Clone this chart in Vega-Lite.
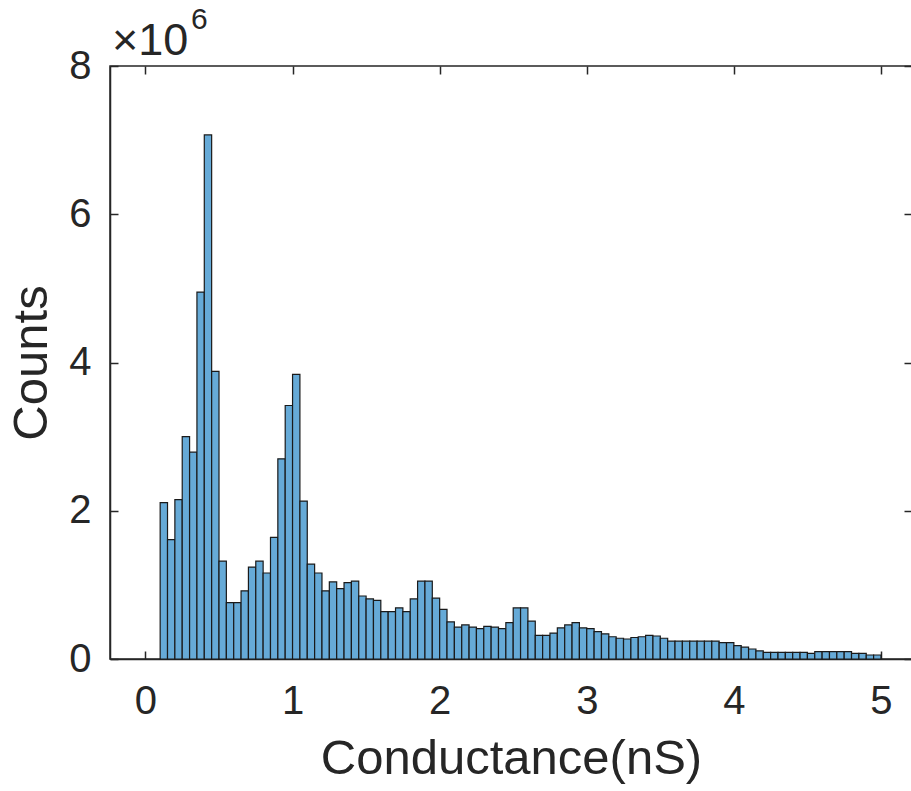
{
  "$schema": "https://vega.github.io/schema/vega-lite/v6.json",
  "width": 802,
  "height": 593,
  "autosize": {"type": "none"},
  "padding": {"left": 110, "top": 66, "right": 0, "bottom": 132},
  "background": "white",
  "config": {
    "view": {"stroke": "#262626", "strokeWidth": 1.5},
    "font": "Liberation Sans",
    "axis": {
      "grid": false,
      "domainColor": "#262626",
      "domainWidth": 1.5,
      "tickColor": "#262626",
      "tickWidth": 1.5,
      "tickSize": -8,
      "labelColor": "#262626",
      "labelFont": "Liberation Sans",
      "labelFontSize": 40,
      "labelOverlap": false,
      "labelFlush": false,
      "titleFont": "Liberation Sans",
      "titleFontSize": 49,
      "titleFontWeight": "normal",
      "titleColor": "#262626"
    }
  },
  "datasets": {
    "hist": [
      {"bin_start": 0.10, "bin_end": 0.15, "count": 2110000},
      {"bin_start": 0.15, "bin_end": 0.20, "count": 1610000},
      {"bin_start": 0.20, "bin_end": 0.25, "count": 2150000},
      {"bin_start": 0.25, "bin_end": 0.30, "count": 3000000},
      {"bin_start": 0.30, "bin_end": 0.35, "count": 2790000},
      {"bin_start": 0.35, "bin_end": 0.40, "count": 4950000},
      {"bin_start": 0.40, "bin_end": 0.45, "count": 7070000},
      {"bin_start": 0.45, "bin_end": 0.50, "count": 3880000},
      {"bin_start": 0.50, "bin_end": 0.55, "count": 1320000},
      {"bin_start": 0.55, "bin_end": 0.60, "count": 760000},
      {"bin_start": 0.60, "bin_end": 0.65, "count": 760000},
      {"bin_start": 0.65, "bin_end": 0.70, "count": 920000},
      {"bin_start": 0.70, "bin_end": 0.75, "count": 1240000},
      {"bin_start": 0.75, "bin_end": 0.80, "count": 1320000},
      {"bin_start": 0.80, "bin_end": 0.85, "count": 1160000},
      {"bin_start": 0.85, "bin_end": 0.90, "count": 1640000},
      {"bin_start": 0.90, "bin_end": 0.95, "count": 2700000},
      {"bin_start": 0.95, "bin_end": 1.00, "count": 3420000},
      {"bin_start": 1.00, "bin_end": 1.05, "count": 3840000},
      {"bin_start": 1.05, "bin_end": 1.10, "count": 2130000},
      {"bin_start": 1.10, "bin_end": 1.15, "count": 1280000},
      {"bin_start": 1.15, "bin_end": 1.20, "count": 1160000},
      {"bin_start": 1.20, "bin_end": 1.25, "count": 920000},
      {"bin_start": 1.25, "bin_end": 1.30, "count": 1040000},
      {"bin_start": 1.30, "bin_end": 1.35, "count": 950000},
      {"bin_start": 1.35, "bin_end": 1.40, "count": 1030000},
      {"bin_start": 1.40, "bin_end": 1.45, "count": 1050000},
      {"bin_start": 1.45, "bin_end": 1.50, "count": 850000},
      {"bin_start": 1.50, "bin_end": 1.55, "count": 810000},
      {"bin_start": 1.55, "bin_end": 1.60, "count": 790000},
      {"bin_start": 1.60, "bin_end": 1.65, "count": 640000},
      {"bin_start": 1.65, "bin_end": 1.70, "count": 640000},
      {"bin_start": 1.70, "bin_end": 1.75, "count": 690000},
      {"bin_start": 1.75, "bin_end": 1.80, "count": 640000},
      {"bin_start": 1.80, "bin_end": 1.85, "count": 810000},
      {"bin_start": 1.85, "bin_end": 1.90, "count": 1050000},
      {"bin_start": 1.90, "bin_end": 1.95, "count": 1050000},
      {"bin_start": 1.95, "bin_end": 2.00, "count": 820000},
      {"bin_start": 2.00, "bin_end": 2.05, "count": 670000},
      {"bin_start": 2.05, "bin_end": 2.10, "count": 500000},
      {"bin_start": 2.10, "bin_end": 2.15, "count": 430000},
      {"bin_start": 2.15, "bin_end": 2.20, "count": 460000},
      {"bin_start": 2.20, "bin_end": 2.25, "count": 430000},
      {"bin_start": 2.25, "bin_end": 2.30, "count": 410000},
      {"bin_start": 2.30, "bin_end": 2.35, "count": 440000},
      {"bin_start": 2.35, "bin_end": 2.40, "count": 430000},
      {"bin_start": 2.40, "bin_end": 2.45, "count": 410000},
      {"bin_start": 2.45, "bin_end": 2.50, "count": 490000},
      {"bin_start": 2.50, "bin_end": 2.55, "count": 690000},
      {"bin_start": 2.55, "bin_end": 2.60, "count": 690000},
      {"bin_start": 2.60, "bin_end": 2.65, "count": 510000},
      {"bin_start": 2.65, "bin_end": 2.70, "count": 320000},
      {"bin_start": 2.70, "bin_end": 2.75, "count": 320000},
      {"bin_start": 2.75, "bin_end": 2.80, "count": 350000},
      {"bin_start": 2.80, "bin_end": 2.85, "count": 420000},
      {"bin_start": 2.85, "bin_end": 2.90, "count": 460000},
      {"bin_start": 2.90, "bin_end": 2.95, "count": 490000},
      {"bin_start": 2.95, "bin_end": 3.00, "count": 420000},
      {"bin_start": 3.00, "bin_end": 3.05, "count": 410000},
      {"bin_start": 3.05, "bin_end": 3.10, "count": 370000},
      {"bin_start": 3.10, "bin_end": 3.15, "count": 340000},
      {"bin_start": 3.15, "bin_end": 3.20, "count": 300000},
      {"bin_start": 3.20, "bin_end": 3.25, "count": 280000},
      {"bin_start": 3.25, "bin_end": 3.30, "count": 270000},
      {"bin_start": 3.30, "bin_end": 3.35, "count": 290000},
      {"bin_start": 3.35, "bin_end": 3.40, "count": 300000},
      {"bin_start": 3.40, "bin_end": 3.45, "count": 320000},
      {"bin_start": 3.45, "bin_end": 3.50, "count": 310000},
      {"bin_start": 3.50, "bin_end": 3.55, "count": 280000},
      {"bin_start": 3.55, "bin_end": 3.60, "count": 240000},
      {"bin_start": 3.60, "bin_end": 3.65, "count": 240000},
      {"bin_start": 3.65, "bin_end": 3.70, "count": 240000},
      {"bin_start": 3.70, "bin_end": 3.75, "count": 240000},
      {"bin_start": 3.75, "bin_end": 3.80, "count": 240000},
      {"bin_start": 3.80, "bin_end": 3.85, "count": 240000},
      {"bin_start": 3.85, "bin_end": 3.90, "count": 240000},
      {"bin_start": 3.90, "bin_end": 3.95, "count": 220000},
      {"bin_start": 3.95, "bin_end": 4.00, "count": 220000},
      {"bin_start": 4.00, "bin_end": 4.05, "count": 180000},
      {"bin_start": 4.05, "bin_end": 4.10, "count": 160000},
      {"bin_start": 4.10, "bin_end": 4.15, "count": 135000},
      {"bin_start": 4.15, "bin_end": 4.20, "count": 110000},
      {"bin_start": 4.20, "bin_end": 4.25, "count": 90000},
      {"bin_start": 4.25, "bin_end": 4.30, "count": 90000},
      {"bin_start": 4.30, "bin_end": 4.35, "count": 90000},
      {"bin_start": 4.35, "bin_end": 4.40, "count": 90000},
      {"bin_start": 4.40, "bin_end": 4.45, "count": 90000},
      {"bin_start": 4.45, "bin_end": 4.50, "count": 90000},
      {"bin_start": 4.50, "bin_end": 4.55, "count": 77000},
      {"bin_start": 4.55, "bin_end": 4.60, "count": 100000},
      {"bin_start": 4.60, "bin_end": 4.65, "count": 100000},
      {"bin_start": 4.65, "bin_end": 4.70, "count": 100000},
      {"bin_start": 4.70, "bin_end": 4.75, "count": 100000},
      {"bin_start": 4.75, "bin_end": 4.80, "count": 100000},
      {"bin_start": 4.80, "bin_end": 4.85, "count": 77000},
      {"bin_start": 4.85, "bin_end": 4.90, "count": 77000},
      {"bin_start": 4.90, "bin_end": 4.95, "count": 54000},
      {"bin_start": 4.95, "bin_end": 5.00, "count": 54000}
    ]
  },
  "layer": [
    {
      "data": {"name": "hist"},
      "mark": {"type": "rect", "fill": "#66AAD7", "stroke": "#1a1a1a", "strokeWidth": 1.2},
      "encoding": {
        "x": {
          "field": "bin_start",
          "type": "quantitative",
          "scale": {"domain": [-0.241, 5.211], "nice": false, "zero": false},
          "axis": {"orient": "bottom", "values": [0, 1, 2, 3, 4, 5], "title": "Conductance(nS)", "labelPadding": 30, "titlePadding": 13}
        },
        "x2": {"field": "bin_end"},
        "y": {
          "field": "count",
          "type": "quantitative",
          "scale": {"domain": [0, 8000000], "nice": false},
          "axis": {"orient": "left", "values": [0, 2000000, 4000000, 6000000, 8000000], "labelExpr": "datum.value / 1000000", "title": "Counts", "labelPadding": 27, "titlePadding": 12}
        },
        "y2": {"datum": 0}
      }
    },
    {
      "data": {"values": [{}]},
      "mark": {"type": "point", "opacity": 0},
      "encoding": {
        "x": {"datum": 0, "type": "quantitative", "axis": {"orient": "top", "values": [0, 1, 2, 3, 4, 5], "labels": false, "title": null, "domain": false}},
        "y": {"datum": 0, "type": "quantitative", "axis": {"orient": "right", "values": [0, 2000000, 4000000, 6000000, 8000000], "labels": false, "title": null, "domain": false}}
      }
    },
    {
      "data": {"values": [{}]},
      "mark": {"type": "text", "align": "left", "baseline": "alphabetic", "dx": 2, "dy": -11, "fontSize": 45, "font": "Liberation Sans", "color": "#262626"},
      "encoding": {
        "x": {"datum": -0.241, "type": "quantitative", "axis": null},
        "y": {"datum": 8000000, "type": "quantitative", "axis": null},
        "text": {"value": "×10"}
      }
    },
    {
      "data": {"values": [{}]},
      "mark": {"type": "text", "align": "left", "baseline": "alphabetic", "dx": 81, "dy": -37, "fontSize": 30, "font": "Liberation Sans", "color": "#262626"},
      "encoding": {
        "x": {"datum": -0.241, "type": "quantitative", "axis": null},
        "y": {"datum": 8000000, "type": "quantitative", "axis": null},
        "text": {"value": "6"}
      }
    }
  ],
  "resolve": {"axis": {"x": "independent", "y": "independent"}}
}
